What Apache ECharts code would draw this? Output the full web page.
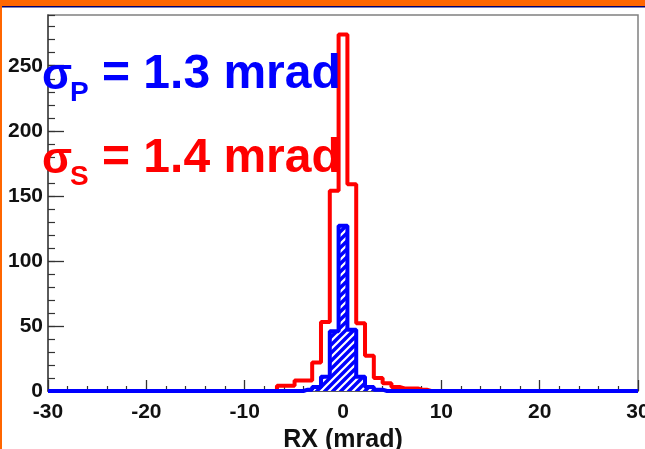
<!DOCTYPE html>
<html>
<head>
<meta charset="utf-8">
<script src="https://cdn.jsdelivr.net/npm/echarts@6/dist/echarts.min.js"></script>
<style>html,body{margin:0;padding:0;background:#fff;}#c{width:645px;height:449px;}</style>
</head>
<body>
<div id="c"></div>
<script>
// Histogram: 67 bins over [-30, 30] mrad
const xMin = -30, xMax = 30, binCount = 67;
const xTicks = [-30, -20, -10, 0, 10, 20, 30];
const yTicks = [0, 50, 100, 150, 200, 250];
const yMax = 289;

// counts per bin (bin index 0..66, bin 33 centred on 0)
const redCounts = [
  0,0,0,0,0,0,0,0,0,0, 0,0,0,0,0,0,0,0,0,0, 0,0,0,0,0,0,
  4,4,8,8,22,53,154,274,159,52,27,10,6,3,2,2,1,
  0,0,0,0,0,0,0,0,0,0, 0,0,0,0,0,0,0,0,0,0, 0,0,0,0
];
const blueCounts = [
  0,0,0,0,0,0,0,0,0,0, 0,0,0,0,0,0,0,0,0,0, 0,0,0,0,0,0,0,0,0,
  1,3,11,46,127,47,11,3,1,
  0,0,0,0,0,0,0,0,0,0, 0,0,0,0,0,0,0,0,0,0, 0,0,0,0,0,0,0,0,0
];
const sigmaP = '1.3 mrad';
const sigmaS = '1.4 mrad';
const xTitle = 'RX (mrad)';

const binW = (xMax - xMin) / binCount;
function toData(counts) {
  const d = [[xMin, 0]];
  counts.forEach((v, i) => d.push([xMin + (i + 0.5) * binW, v]));
  d.push([xMax, 0]);
  return d;
}

function hatch() {
  const s = 8;
  const c = document.createElement('canvas');
  c.width = s; c.height = s;
  const g = c.getContext('2d');
  g.fillStyle = '#0000ff';
  g.fillRect(0, 0, s, s);
  g.strokeStyle = '#ffffff';
  g.lineWidth = 2.2;
  g.beginPath();
  g.moveTo(-1, s + 1); g.lineTo(s + 1, -1);
  g.moveTo(-1, 1); g.lineTo(1, -1);
  g.moveTo(s - 1, s + 1); g.lineTo(s + 1, s - 1);
  g.stroke();
  return c;
}

const FONT = 'Liberation Sans';
const chart = echarts.init(document.getElementById('c'), null, {renderer: 'canvas'});
chart.setOption({
  backgroundColor: '#ffffff',
  animation: false,
  grid: {left: 48, right: 7, top: 15, bottom: 58, show: true, borderColor: '#808080', borderWidth: 1.5,
    backgroundColor: '#fff', outerBoundsMode: 'none', containLabel: false},
  xAxis: {
    type: 'value', min: xMin, max: xMax, interval: 10,
    name: xTitle, nameLocation: 'middle', nameGap: 31,
    nameTextStyle: {fontFamily: FONT, fontWeight: 'bold', fontSize: 25, color: '#111'},
    axisLine: {show: true, onZero: false, lineStyle: {color: '#444', width: 1.5}},
    axisTick: {show: true, inside: true, length: 11, lineStyle: {color: '#333', width: 1.3}},
    minorTick: {show: true, splitNumber: 5, length: 5, lineStyle: {color: '#333', width: 1.2}},
    axisLabel: {margin: 11, fontFamily: FONT, fontWeight: 'bold', fontSize: 21, color: '#111',
      formatter: v => xTicks.indexOf(v) >= 0 ? String(v) : ''},
    splitLine: {show: false}
  },
  yAxis: [{
    type: 'value', min: 0, max: yMax, interval: 50,
    axisLine: {show: true, onZero: false, lineStyle: {color: '#444', width: 1.5}},
    axisTick: {show: true, inside: true, length: 16, lineStyle: {color: '#333', width: 1.3}},
    axisLabel: {margin: 5, fontFamily: FONT, fontWeight: 'bold', fontSize: 21, color: '#111', showMaxLabel: false,
      formatter: v => yTicks.indexOf(v) >= 0 ? String(v) : ''},
    splitLine: {show: false}
  }, {
    type: 'value', min: 0, max: yMax, interval: 10, position: 'left',
    axisLine: {show: false, onZero: false},
    axisTick: {show: true, inside: true, length: 7, lineStyle: {color: '#333', width: 1.2}},
    axisLabel: {show: false},
    splitLine: {show: false}
  }],
  series: [{
    type: 'line', step: 'middle', data: toData(redCounts), showSymbol: false, clip: false,
    lineStyle: {color: '#ff0000', width: 4}, z: 3
  }, {
    type: 'line', step: 'middle', data: toData(blueCounts), showSymbol: false, clip: false,
    lineStyle: {color: '#0000ff', width: 4},
    areaStyle: {color: {image: hatch(), repeat: 'repeat'}, opacity: 1}, z: 4
  }],
  graphic: [
    {type: 'rect', shape: {x: 0, y: 0, width: 645, height: 6}, style: {fill: '#ff6600'}, z: 100},
    {type: 'rect', shape: {x: 0, y: 6, width: 645, height: 1.5}, style: {fill: '#000070'}, z: 100},
    {type: 'rect', shape: {x: 0, y: 0, width: 2, height: 449}, style: {fill: '#ff6600'}, z: 100},
    {type: 'text', x: 42, y: 55, z: 100, style: {text: 'σ', fill: '#0000ff', font: 'bold 44px "Liberation Sans"', verticalAlign: 'top'}},
    {type: 'text', x: 70, y: 79, z: 100, style: {text: 'P', fill: '#0000ff', font: 'bold 28px "Liberation Sans"', verticalAlign: 'top'}},
    {type: 'text', x: 102, y: 51, z: 100, style: {text: '= ' + sigmaP, fill: '#0000ff', font: 'bold 48px "Liberation Sans"', verticalAlign: 'top'}},
    {type: 'text', x: 42, y: 139, z: 100, style: {text: 'σ', fill: '#ff0000', font: 'bold 44px "Liberation Sans"', verticalAlign: 'top'}},
    {type: 'text', x: 70, y: 163, z: 100, style: {text: 'S', fill: '#ff0000', font: 'bold 28px "Liberation Sans"', verticalAlign: 'top'}},
    {type: 'text', x: 102, y: 135, z: 100, style: {text: '= ' + sigmaS, fill: '#ff0000', font: 'bold 48px "Liberation Sans"', verticalAlign: 'top'}}
  ]
});
</script>
</body>
</html>
